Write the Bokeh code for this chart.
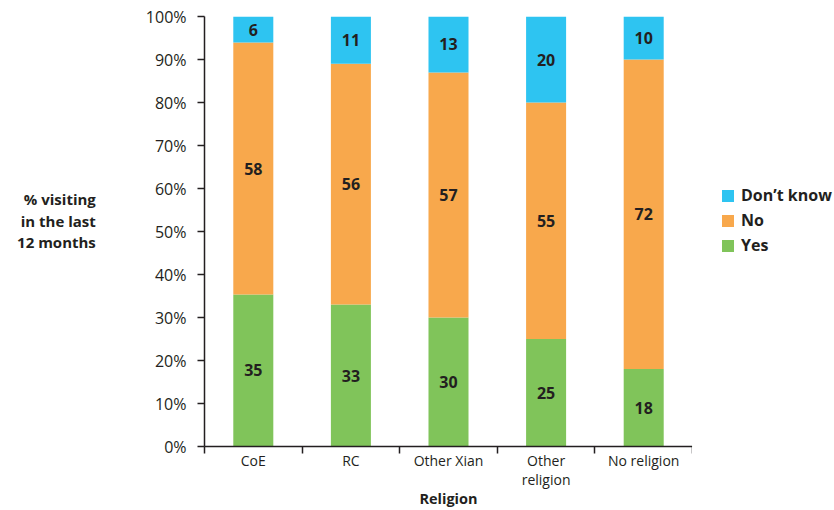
import numpy as np
from bokeh.plotting import figure
from bokeh.layouts import row
from bokeh.models import (ColumnDataSource, FixedTicker, Range1d, Legend, LegendItem,
                          CustomJSTickFormatter)
from bokeh.core.properties import value
from bokeh.embed import file_html
from bokeh.resources import INLINE

categories = ["CoE", "RC", "Other Xian", "Other\nreligion", "No religion"]
yes = [35, 33, 30, 25, 18]
no = [58, 56, 57, 55, 72]
dont_know = [6, 11, 13, 20, 10]
y_ticks = [0, 10, 20, 30, 40, 50, 60, 70, 80, 90, 100]
series_labels = ["Yes", "No", "Don’t know"]

FONT = "Open Sans"
TXT = "#231F20"
COLORS = ["#80C45A", "#F8A84C", "#2EC4F1"]

n = len(categories)
xpos = np.arange(n) + 0.5
yes_a, no_a, dk_a = np.array(yes, float), np.array(no, float), np.array(dont_know, float)
tot = yes_a + no_a + dk_a
ys = yes_a / tot * 100
ns = no_a / tot * 100
ds = dk_a / tot * 100

src = ColumnDataSource(dict(x=xpos, yes=ys, no=ns, dk=ds))

p = figure(width=692, height=510, output_backend="svg", toolbar_location=None,
           x_range=Range1d(0, n), y_range=Range1d(0, 100),
           min_border_left=204, min_border_right=0, min_border_top=16, min_border_bottom=64)
p.outline_line_color = None
p.xgrid.visible = False
p.ygrid.visible = False
p.background_fill_color = "white"

r = p.vbar_stack(["yes", "no", "dk"], x="x", width=0.41, source=src,
                 color=COLORS, line_color=None)

lab = ColumnDataSource(dict(
    x=np.concatenate([xpos, xpos, xpos]),
    y=np.concatenate([ys / 2, ys + ns / 2, ys + ns + ds / 2]),
    t=[str(v) for v in yes + no + dont_know]))
p.text(x="x", y="y", text="t", source=lab, text_align="center", text_baseline="middle",
       text_font=value(FONT), text_font_style="bold", text_font_size="16px", text_color=TXT)

xa = p.xaxis[0]
xa.ticker = FixedTicker(ticks=list(xpos), minor_ticks=list(range(n + 1)))
xa.major_label_overrides = {float(x): c for x, c in zip(xpos, categories)}
xa.major_tick_out = 0
xa.major_tick_in = 0
xa.minor_tick_out = 7
xa.minor_tick_in = 0
xa.minor_tick_line_color = TXT
xa.minor_tick_line_width = 1.5
xa.axis_line_color = TXT
xa.axis_line_width = 1.5
xa.major_label_text_font = FONT
xa.major_label_text_font_size = "14px"
xa.major_label_text_color = TXT
xa.major_label_text_line_height = 1.0
xa.major_label_standoff = -3
xa.axis_label = "Religion"
xa.axis_label_text_font = FONT
xa.axis_label_text_font_style = "bold"
xa.axis_label_text_font_size = "14.5px"
xa.axis_label_text_color = TXT
xa.axis_label_standoff = -3

ya = p.yaxis[0]
ya.ticker = FixedTicker(ticks=y_ticks, minor_ticks=[])
ya.formatter = CustomJSTickFormatter(code="return tick + '%';")
ya.major_tick_out = 7
ya.major_tick_in = 0
ya.major_tick_line_color = TXT
ya.major_tick_line_width = 1.5
ya.minor_tick_line_color = None
ya.axis_line_color = TXT
ya.axis_line_width = 1.5
ya.major_label_text_font = FONT
ya.major_label_text_font_size = "16px"
ya.major_label_text_color = TXT
ya.major_label_standoff = 11
ya.axis_label = "% visiting\nin the last\n12 months\n"
ya.axis_label_orientation = "horizontal"
ya.axis_label_text_font = FONT
ya.axis_label_text_font_style = "bold"
ya.axis_label_text_font_size = "15px"
ya.axis_label_text_color = TXT
ya.axis_label_text_align = "center"
ya.axis_label_text_line_height = 1.08
ya.axis_label_standoff = 47

# legend panel
leg = figure(width=142, height=510, output_backend="svg", toolbar_location=None,
             x_range=Range1d(0, 1), y_range=Range1d(0, 1),
             min_border_left=0, min_border_right=0, min_border_top=0, min_border_bottom=0)
leg.axis.visible = False
leg.grid.visible = False
leg.outline_line_color = None
# off-screen placeholders that only carry the legend swatch styles
dummy = [leg.vbar(x=[-5], top=[-5], width=0.5, color=c, line_color=None) for c in COLORS]
legend = Legend(items=[LegendItem(label=series_labels[i], renderers=[dummy[i]]) for i in (2, 1, 0)],
                location=(28, 190), orientation="vertical",
                border_line_color=None, background_fill_alpha=0,
                label_text_font=FONT, label_text_font_style="bold",
                label_text_font_size="16px", label_text_color=TXT,
                glyph_width=15, glyph_height=15, label_standoff=6,
                spacing=3, padding=0, margin=0, label_height=15)
leg.add_layout(legend, "center")

open("out.html", "w").write(file_html(row(p, leg), INLINE))
